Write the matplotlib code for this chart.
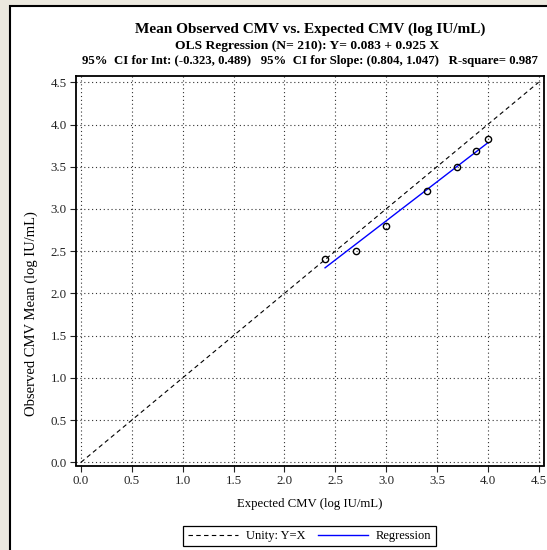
import numpy as np
import matplotlib
matplotlib.use("Agg")
import matplotlib.pyplot as plt
from matplotlib.patches import Rectangle

# data
expected = [2.4, 2.7, 3.0, 3.4, 3.7, 3.88, 4.0]
observed = [2.41, 2.50, 2.80, 3.21, 3.50, 3.69, 3.83]
intercept = 0.083
slope = 0.925
ticks = [0.0, 0.5, 1.0, 1.5, 2.0, 2.5, 3.0, 3.5, 4.0, 4.5]

plt.rcParams['font.family'] = ['Liberation Serif', 'DejaVu Serif']

W, H = 547, 550
fig = plt.figure(figsize=(W / 100, H / 100), dpi=100)
fig.patch.set_facecolor('#ECE9DF')

# white panel with black border
fig.patches.append(Rectangle((10 / W, -0.1), 1.2, 1 - 6 / H + 0.1, transform=fig.transFigure,
                             facecolor='white', edgecolor='black', lw=1.5, zorder=-5))

ax = fig.add_axes([75.7 / W, 1 - 465.5 / H, (543.5 - 75.7) / W, (465.5 - 75.7) / H])
ax.set_zorder(2)
ax.set_facecolor('white')

# unity line
ax.plot([0, 4.5], [0, 4.5], color='black', ls=(0, (4, 3)), lw=0.8, label='Unity: Y=X')
# regression line
xr = np.array([min(expected), max(expected)])
ax.plot(xr, intercept + slope * xr, color='#0000FF', lw=1, label='Regression')
# observed means
ax.plot(expected, observed, 'o', mfc='none', mec='black', ms=4.5, mew=1, zorder=4)

ax.set_xlim(-0.052, 4.548)
ax.set_ylim(-0.038, 4.578)
ax.set_xticks(ticks)
ax.set_yticks(ticks)
ax.set_xticklabels([f'{t:.1f}' for t in ticks])
ax.set_yticklabels([f'{t:.1f}' for t in ticks])
ax.tick_params(direction='out', length=4.5, width=0.8, labelsize=9.3, pad=2, colors='#222222')
ax.grid(True, ls=(0, (1, 2.5)), color='#333333', lw=0.8)
for s in ax.spines.values():
    s.set_linewidth(1.3)

ax.set_xlabel('Expected CMV (log IU/mL)', fontsize=9.2, labelpad=8)
fig.text(31.5 / W, 1 - 314 / H, 'Observed CMV Mean (log IU/mL)', rotation=90,
         ha='center', va='center', fontsize=10.5)

fig.text(310 / W, 1 - 29 / H, 'Mean Observed CMV vs. Expected CMV (log IU/mL)',
         ha='center', va='center', fontsize=11, fontweight='bold')
fig.text(307 / W, 1 - 46 / H, 'OLS Regression (N= 210): Y= 0.083 + 0.925 X',
         ha='center', va='center', fontsize=9.7, fontweight='bold')
fig.text(310 / W, 1 - 61 / H,
         '95%  CI for Int: (-0.323, 0.489)   95%  CI for Slope: (0.804, 1.047)   R-square= 0.987',
         ha='center', va='center', fontsize=9.2, fontweight='bold')

leg = fig.legend(loc='center', bbox_to_anchor=(309.5 / W, 1 - 536 / H), ncol=2,
                 fontsize=9, fancybox=False, framealpha=1, edgecolor='black',
                 handlelength=4, columnspacing=1, borderpad=0.35, handletextpad=0.65)
leg.get_frame().set_linewidth(0.9)

fig.savefig('out.png', dpi=100, facecolor=fig.get_facecolor())
